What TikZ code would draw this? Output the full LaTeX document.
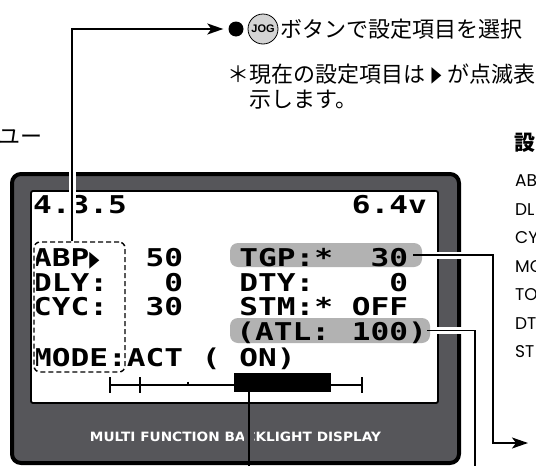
\documentclass[tikz,border=0pt]{standalone}
\usepackage{fontspec}
\usepackage{graphicx}
\usetikzlibrary{arrows.meta}
\setmainfont{Liberation Sans}
\newfontfamily\jpfont{Noto Sans CJK JP}
\newfontfamily\lcdfont[FakeStretch=1.27]{DejaVu Sans Mono}
\newfontfamily\dvfont{DejaVu Sans}
\newfontfamily\geofont{Poppins}
\definecolor{framegray}{RGB}{86,86,90}
\definecolor{boxgray}{RGB}{178,178,178}
\definecolor{joggray}{RGB}{212,212,212}
\begin{document}
\begin{tikzpicture}[x=1pt,y=-1pt,
  conn/.style={line width=1.7pt, draw=black},
  whalo/.style={line width=7pt, draw=white},
  lcd/.style={font=\lcdfont\bfseries\fontsize{24.5}{24.5}\selectfont, anchor=base west, inner sep=0pt},
  jp/.style={font=\jpfont\fontsize{22}{26}\selectfont, inner sep=0pt},
  geo/.style={font=\geofont\fontsize{17}{19}\selectfont, anchor=west, inner sep=0pt},
  graybox/.style={fill=boxgray, rounded corners=8pt, minimum width=#1, minimum height=24pt, inner sep=0pt},
  arr/.style={-{Stealth[length=16pt,width=11pt,inset=4pt]}}
]
\useasboundingbox (0,0) rectangle (536,466);
\fill[white] (0,0) rectangle (536,466);

% device frame and screen
\node[draw=black, line width=4pt, fill=framegray, rounded corners=9pt,
      minimum width=447pt, minimum height=289pt, inner sep=0pt] (frame) at (235.5,318.5) {};
\node[draw=black, line width=1.8pt, fill=white, rounded corners=2pt,
      minimum width=407pt, minimum height=212pt, inner sep=0pt] (screen) at (234.5,297) {};
\node[font=\dvfont\bfseries, text=white, inner sep=0pt] (brand) at (235.5,437)
  {\resizebox{291pt}{9.5pt}{MULTI FUNCTION BACKLIGHT DISPLAY}};

% highlighted rows
\node[graybox=192pt] (tgp) at (326,255) {};
\node[graybox=200pt, minimum height=25pt] (atl) at (330,330.5) {};

% LCD text on a character grid (cell 18.75pt)
\def\cx#1{33+#1*18.75}
\node[lcd] (ver) at ({\cx{0}},213) {4.3.5};
\node[lcd] (volt) at ({\cx{17}},213) {6.4v};
\node[lcd] (abp) at ({\cx{0}},266.5) {ABP};
\node[font=\dvfont\fontsize{22}{22}\selectfont, anchor=base west, inner sep=0pt] (cur) at ({\cx{3}},266.5) {\scalebox{0.6}[1]{▶}};
\node[lcd] (abpv) at ({\cx{6}},266.5) {50};
\node[lcd] (dly) at ({\cx{0}},291) {DLY:};
\node[lcd] (dlyv) at ({\cx{7}},291) {0};
\node[lcd] (cyc) at ({\cx{0}},315.5) {CYC:};
\node[lcd] (cycv) at ({\cx{6}},315.5) {30};
\node[lcd] (mode) at ({\cx{0}},366) {MODE:ACT};
\node[lcd] (par) at ({\cx{9}},366) {(};
\node[lcd] (on) at ({\cx{11}},366) {ON)};
\node[lcd] (tgpl) at ({\cx{11}},266.5) {TGP:*};
\node[lcd] (tgpv) at ({\cx{18}},266.5) {30};
\node[lcd] (dty) at ({\cx{11}},291) {DTY:};
\node[lcd] (dtyv) at ({\cx{19}},291) {0};
\node[lcd] (stm) at ({\cx{11}},315.5) {STM:*};
\node[lcd] (stmv) at ({\cx{17}},315.5) {OFF};
\node[lcd] (atll) at ({\cx{11}-3},340) {(ATL:};
\node[lcd] (atlv) at ({\cx{17}},340) {100)};

% bar graph
\draw[line width=2.5pt] (110,385) -- (362,385);
\draw[line width=2.5pt] (110,377) -- (110,393);
\draw[line width=2.5pt] (140,377) -- (140,393);
\draw[line width=2.5pt] (362,377) -- (362,393);
\draw[line width=2pt] (188,381.5) -- (188,385);
\node[fill=black, minimum width=97pt, minimum height=19pt, inner sep=0pt] (bar) at (282.5,382.5) {};

% annotation texts
\node[circle, fill=black, minimum size=15pt, inner sep=0pt] (dot) at (236,29) {};
\node[circle, draw=black, line width=0.8pt, fill=joggray, minimum size=30pt, inner sep=0pt,
      font=\bfseries\fontsize{11}{11}\selectfont] (jog) at (263,29) {JOG};
\node[jp, anchor=west] (t1) at (280,29) {ボタンで設定項目を選択};
\node[jp, anchor=west] (t2) at (227,74) {＊現在の設定項目は\makebox[22pt]{\scalebox{0.55}[0.8]{▶}}が点滅表};
\node[jp, anchor=west] (t3) at (249,100) {示します。};
\node[jp, anchor=east] (menu) at (43,137) {ユー};
\node[jp, anchor=west, font=\jpfont\bfseries\fontsize{21}{24}\selectfont] (head) at (514,143) {設};
\node[geo] (l1) at (515,181) {AB};
\node[geo] (l2) at (515,209.5) {DL};
\node[geo] (l3) at (515,238) {CY};
\node[geo] (l4) at (515,266.5) {MO};
\node[geo] (l5) at (515,295) {TO};
\node[geo] (l6) at (515,323.5) {DT};
\node[geo] (l7) at (515,352) {ST};

% connectors
\coordinate (corner) at (72,29);
\coordinate (tgpturn) at (493,443);
\coordinate (tgpend) at (528,443);
\coordinate (atlend) at (475,470);
\coordinate (barend) at (249,470);

\draw[whalo] (72,165) -- (72,238);
\draw[whalo] ([xshift=4pt]tgp.east) -- (tgp.east -| tgpturn);
\draw[whalo] ([xshift=4pt]atl.east) -- (atl.east -| atlend);
\draw[line width=10pt, framegray] (249,405) -- (249,459);

\node[draw=black, dashed, dash pattern=on 5pt off 3pt, line width=1.4pt, rounded corners=6pt,
      minimum width=91pt, minimum height=130pt, inner sep=0pt,
      preaction={draw=white, solid, line width=4pt}] (sel) at (79.5,307) {};

\draw[conn, arr] (sel.north -| corner) -- (corner) -- ([xshift=-5pt]dot.west);
\draw[conn, arr] ([xshift=-9pt]tgp.east) -| (tgpturn) -- (tgpend);
\draw[conn] ([xshift=-3pt]atl.east) -| (atlend);
\draw[conn] (bar.south -| barend) -- (barend);
\end{tikzpicture}
\end{document}
